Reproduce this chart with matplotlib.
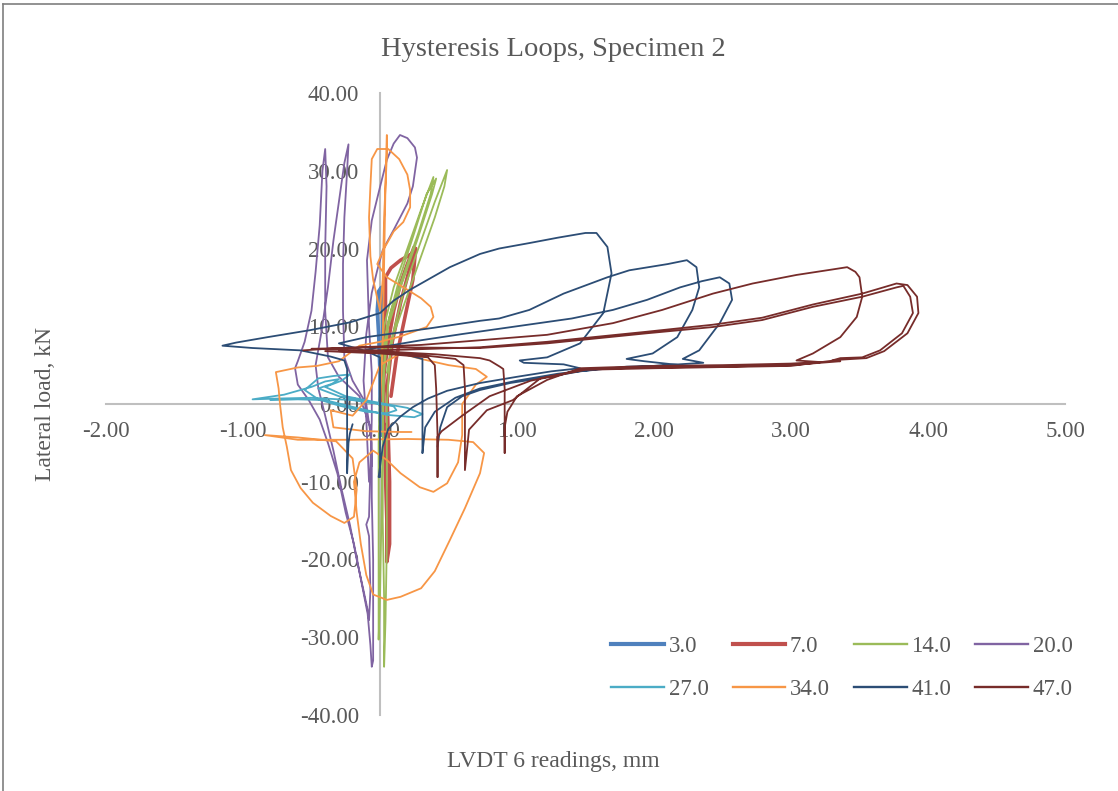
import numpy as np
import matplotlib
matplotlib.use("Agg")
import matplotlib.pyplot as plt
from matplotlib.lines import Line2D

plt.rcParams['font.family'] = ['Liberation Serif', 'DejaVu Serif']

# LVDT 6 reading (mm) vs lateral load (kN), one loop set per drift cycle
labels = ["3.0", "7.0", "14.0", "20.0", "27.0", "34.0", "41.0", "47.0"]
colors = ["#4F81BD", "#C0504D", "#9BBB59", "#8064A2",
          "#4BACC6", "#F79646", "#2C4D75", "#772C2A"]
widths = [2.6, 2.6, 1.3, 1.3, 1.3, 1.3, 1.3, 1.3]

cyc_3 = [(0.0, 0.0), (0.0, 4.0), (-0.01, 9.0), (-0.02, 12.0), (-0.01, 14.5),
         (0.01, 15.0), (0.02, 12.0), (0.02, 8.0), (0.01, 3.0), (0.0, -2.0),
         (0.01, -4.0), (0.02, -1.0), (0.0, 0.0)]

cyc_7 = [(0.02, 0.0), (0.03, 4.0), (0.06, 8.0), (0.1, 12.0), (0.15, 15.5),
         (0.2, 18.0), (0.25, 20.2), (0.26, 19.6), (0.2, 19.0), (0.15, 18.5),
         (0.08, 17.5), (0.04, 16.3), (0.04, 13.0), (0.03, 8.0), (0.02, 3.0),
         (0.03, -3.0), (0.04, -9.0), (0.05, -15.0), (0.05, -20.3), (0.07, -18.0),
         (0.07, -10.0), (0.06, -4.0), (0.05, 2.0), (0.09, 8.0), (0.15, 13.0),
         (0.21, 17.0), (0.26, 20.0), (0.24, 16.0), (0.18, 11.0), (0.12, 6.0),
         (0.08, 1.0)]

cyc_14 = [(0.0, 0.0), (0.0, 5.0), (0.03, 10.0), (0.1, 15.0), (0.2, 20.0),
          (0.3, 25.0), (0.39, 29.2), (0.37, 27.0), (0.28, 22.0), (0.18, 17.0),
          (0.08, 12.0), (0.02, 7.0), (0.0, 2.0), (-0.01, -5.0), (-0.01, -15.0),
          (-0.01, -22.0), (-0.01, -30.3), (0.0, -25.0), (0.01, -15.0),
          (0.02, -5.0), (0.02, 3.0), (0.05, 10.0), (0.14, 16.0), (0.25, 22.0),
          (0.34, 27.0), (0.41, 29.0), (0.38, 27.0), (0.27, 21.0), (0.15, 15.0),
          (0.06, 10.0), (0.03, 4.0), (0.02, -5.0), (0.02, -15.0), (0.03, -25.0),
          (0.03, -33.8), (0.04, -28.0), (0.05, -18.0), (0.05, -8.0), (0.05, 0.0),
          (0.08, 8.0), (0.18, 15.0), (0.3, 21.0), (0.4, 26.0), (0.49, 30.1),
          (0.47, 28.0), (0.4, 24.0), (0.3, 19.0), (0.2, 14.0), (0.1, 9.0),
          (0.05, 4.0)]

cyc_20 = [(-0.06, -8.0), (-0.07, -3.0), (-0.15, 1.0), (-0.3, 3.5), (-0.38, 6.0),
          (-0.4, 12.0), (-0.4, 20.0), (-0.39, 28.0), (-0.4, 32.8), (-0.42, 30.0),
          (-0.44, 23.0), (-0.47, 17.0), (-0.5, 12.0), (-0.55, 8.0), (-0.6, 5.5),
          (-0.62, 4.6), (-0.6, 2.5), (-0.52, 0.5), (-0.44, -2.0), (-0.38, -5.0),
          (-0.31, -9.0), (-0.25, -14.0), (-0.19, -18.0), (-0.14, -22.5),
          (-0.09, -27.0), (-0.07, -31.0), (-0.06, -33.8), (-0.05, -33.0),
          (-0.05, -28.0), (-0.05, -20.0), (-0.06, -12.0), (-0.06, -5.0),
          (-0.1, 0.0), (-0.2, 3.0), (-0.26, 6.0), (-0.27, 12.0), (-0.27, 18.0),
          (-0.26, 24.0), (-0.24, 30.0), (-0.23, 33.4), (-0.26, 31.0), (-0.3, 26.0),
          (-0.34, 21.0), (-0.38, 15.0), (-0.43, 9.0), (-0.47, 5.0), (-0.45, 2.0),
          (-0.4, -1.5), (-0.34, -6.0), (-0.28, -11.0), (-0.22, -15.5),
          (-0.17, -20.0), (-0.12, -24.0), (-0.09, -26.5), (-0.08, -27.8),
          (-0.07, -24.0), (-0.08, -17.0), (-0.1, -15.5), (-0.08, -14.5),
          (-0.07, -8.0), (-0.06, -2.0), (-0.06, 4.0), (-0.08, 10.0),
          (-0.095, 18.5), (-0.06, 23.6), (0.0, 27.9), (0.05, 31.4), (0.1, 33.5),
          (0.146, 34.6), (0.2, 34.2), (0.255, 33.0), (0.27, 31.7), (0.24, 28.0),
          (0.2, 25.8), (0.1, 22.4), (0.02, 19.8), (-0.02, 17.2), (-0.06, 14.3),
          (-0.1, 9.0), (-0.12, 3.0), (-0.1, -2.0), (-0.08, -10.0)]

cyc_27 = [(0.0, 0.0), (-0.2, 0.5), (-0.5, 0.8), (-0.75, 0.7), (-0.93, 0.6),
          (-0.7, 1.2), (-0.5, 2.2), (-0.4, 2.9), (-0.3, 3.2), (-0.35, 2.6),
          (-0.45, 2.0), (-0.3, 1.0), (-0.1, 0.3), (0.1, -0.3), (0.12, -0.8),
          (0.05, -1.2), (-0.1, -1.0), (-0.3, -0.2), (-0.45, 0.6), (-0.55, 1.8),
          (-0.45, 3.3), (-0.34, 3.6), (-0.22, 3.8), (-0.28, 3.0), (-0.4, 2.2),
          (-0.25, 1.0), (-0.05, 0.3), (0.2, -0.5), (0.31, -1.3), (0.25, -1.7),
          (0.05, -1.4), (-0.17, -0.5), (-0.4, 0.5), (-0.6, 0.6), (-0.8, 0.5)]

cyc_34 = [(0.0, 0.0), (0.02, 8.0), (0.03, 18.0), (0.04, 28.0), (0.05, 34.6),
          (0.05, 32.0), (0.03, 24.0), (0.02, 16.0), (0.0, 12.0), (-0.05, 16.0),
          (-0.07, 19.0), (-0.08, 24.0), (-0.07, 28.0), (-0.06, 31.5), (-0.02, 32.8),
          (0.06, 32.8), (0.14, 31.5), (0.2, 29.5), (0.22, 27.5), (0.22, 25.3),
          (0.17, 23.4), (0.1, 22.2), (0.03, 20.0), (-0.02, 18.0), (0.05, 16.3),
          (0.2, 14.7), (0.3, 13.6), (0.37, 12.5), (0.39, 11.2), (0.34, 9.9),
          (0.15, 8.7), (0.0, 8.0), (-0.15, 7.5), (-0.3, 5.5), (-0.46, 4.9),
          (-0.6, 4.7), (-0.76, 4.1), (-0.74, 2.0), (-0.73, 0.0), (-0.71, -3.0),
          (-0.68, -5.5), (-0.65, -8.5), (-0.58, -10.8), (-0.49, -12.7),
          (-0.36, -14.4), (-0.26, -15.3), (-0.19, -14.5), (-0.17, -11.0),
          (-0.2, -7.0), (-0.32, -4.8), (-0.6, -4.3), (-0.84, -4.0), (-0.6, -4.6),
          (-0.2, -4.6), (0.2, -4.5), (0.5, -4.6), (0.68, -4.9), (0.76, -6.3),
          (0.73, -8.9), (0.62, -13.4), (0.51, -17.5), (0.4, -21.5), (0.3, -23.7),
          (0.15, -24.8), (0.05, -25.2), (-0.05, -24.5), (-0.1, -22.0),
          (-0.14, -18.0), (-0.17, -14.0), (-0.19, -10.0), (-0.15, -7.5),
          (-0.05, -6.0), (0.05, -7.2), (0.15, -8.9), (0.29, -10.7), (0.39, -11.3),
          (0.49, -10.2), (0.57, -7.5), (0.6, -4.0), (0.6, 0.0), (0.7, 2.5),
          (0.78, 3.5), (0.7, 4.5), (0.5, 5.0), (0.3, 5.8), (0.15, 6.5), (0.0, 5.0),
          (-0.1, 0.5), (-0.2, -1.5), (-0.36, -0.8), (-0.34, -3.0), (-0.1, -3.5),
          (0.15, -3.6), (0.23, -3.6)]

nan = np.nan
cyc_41 = [(-0.01, -9.4), (0.02, -5.5), (0.06, -3.2), (0.15, -1.6), (0.24, -0.4),
          (0.35, 0.7), (0.49, 1.7), (0.73, 2.7), (1.0, 3.5), (1.25, 4.2),
          (1.46, 4.6), (1.34, 5.1), (1.05, 5.3), (1.02, 5.6), (1.22, 6.0),
          (1.46, 7.8), (1.63, 11.7), (1.69, 16.8), (1.66, 20.2), (1.58, 22.0),
          (1.5, 22.0), (1.3, 21.4), (1.09, 20.7), (0.87, 20.0), (0.73, 19.3),
          (0.51, 17.6), (0.35, 16.0), (0.22, 14.7), (0.1, 13.3), (0.0, 11.7),
          (-0.22, 10.5), (-0.51, 9.5), (-0.82, 8.6), (-1.05, 7.9), (-1.15, 7.5),
          (-0.93, 7.2), (-0.58, 6.9), (-0.36, 6.1), (-0.26, 5.6), (-0.24, 4.5),
          (-0.24, 0.0), (-0.24, -5.0), (-0.24, -8.9), (-0.23, -5.0), (-0.22, -3.8),
          (-0.2, -2.6), (nan, nan),
          (0.42, -5.5), (0.44, -3.0), (0.49, -0.4), (0.6, 1.0), (0.73, 1.8),
          (0.95, 2.7), (1.17, 3.3), (1.46, 4.2), (1.8, 4.8), (2.19, 5.0),
          (1.93, 5.5), (1.8, 5.8), (1.99, 6.5), (2.17, 8.6), (2.28, 12.1),
          (2.33, 15.0), (2.31, 17.6), (2.24, 18.5), (2.1, 18.0), (1.82, 17.2),
          (1.66, 16.3), (1.34, 14.2), (1.09, 12.1), (0.87, 11.0), (0.73, 10.7),
          (0.39, 9.8), (-0.1, 8.6), (-0.3, 7.8), (-0.1, 6.8), (0.0, 6.0),
          (0.0, 0.0), (0.0, -9.4), (nan, nan),
          (0.31, -6.3), (0.33, -3.0), (0.4, -1.0), (0.55, 0.8), (0.73, 2.0),
          (1.0, 3.0), (1.3, 3.9), (1.6, 4.5), (2.0, 4.9), (2.36, 5.3), (2.21, 5.8),
          (2.33, 6.9), (2.48, 10.4), (2.57, 13.4), (2.55, 15.5), (2.48, 16.3),
          (2.35, 15.8), (2.19, 15.0), (1.95, 13.4), (1.7, 12.1), (1.4, 11.0),
          (1.0, 10.0), (0.6, 9.0), (0.3, 8.2), (0.1, 7.6), (-0.1, 7.0),
          (0.2, 6.3), (0.31, 5.8), (0.31, 0.0), (0.31, -6.3)]

cyc_47 = [(-0.56, 6.9), (-0.3, 7.2), (0.0, 7.4), (0.3, 7.6), (0.73, 8.2),
          (1.22, 8.9), (1.7, 10.4), (2.06, 12.1), (2.43, 14.2), (2.72, 15.5),
          (3.04, 16.6), (3.3, 17.3), (3.41, 17.6), (3.47, 17.0), (3.5, 16.3),
          (3.52, 13.8), (3.48, 11.2), (3.36, 8.6), (3.16, 6.5), (3.04, 5.6),
          (3.21, 5.4), (3.0, 5.2), (2.5, 5.0), (2.0, 4.9), (1.46, 4.6),
          (1.22, 3.1), (1.0, 1.0), (0.93, -1.0), (0.91, -3.0), (0.91, -6.3),
          (0.91, -2.0), (0.91, 2.0), (0.9, 4.5), (0.875, 4.8), (0.8, 5.6),
          (0.73, 5.9), (0.4, 6.4), (0.0, 6.8), (-0.3, 7.0), (-0.5, 7.1),
          (0.0, 7.3), (0.73, 7.2), (1.22, 7.8), (1.95, 9.1), (2.43, 9.9),
          (2.79, 10.8), (3.16, 12.5), (3.52, 13.8), (3.77, 15.0), (3.82, 15.2),
          (3.87, 13.8), (3.89, 11.7), (3.81, 9.1), (3.65, 6.9), (3.52, 6.0),
          (3.36, 5.9), (3.3, 5.6), (3.36, 5.5), (3.0, 5.0), (2.5, 4.8), (2.0, 4.7),
          (1.5, 4.5), (1.17, 3.3), (0.97, 0.5), (0.78, -0.8), (0.65, -3.3),
          (0.62, -8.5), (0.62, -3.0), (0.62, 2.0), (0.61, 5.0), (0.55, 5.8),
          (0.3, 6.3), (0.0, 6.6), (-0.3, 6.8), (0.2, 7.0), (0.73, 7.3),
          (1.22, 8.0), (1.95, 9.3), (2.43, 10.2), (2.79, 11.1), (3.16, 12.8),
          (3.52, 14.2), (3.77, 15.5), (3.85, 15.3), (3.92, 13.8), (3.93, 11.7),
          (3.85, 9.1), (3.68, 6.8), (3.55, 5.9), (3.36, 5.7), (3.0, 4.9),
          (2.0, 4.6), (1.5, 4.4), (1.1, 3.0), (0.8, 1.0), (0.6, -1.5),
          (0.45, -3.5), (0.42, -4.2), (0.42, -9.4), (0.42, -4.0), (0.41, 2.0),
          (0.4, 5.0), (0.35, 6.0), (0.0, 6.5), (-0.4, 6.8)]

cycles = [cyc_3, cyc_7, cyc_14, cyc_20, cyc_27, cyc_34, cyc_41, cyc_47]

x_ticks = [-2, -1, 0, 1, 2, 3, 4, 5]
y_ticks = [-40, -30, -20, -10, 0, 10, 20, 30, 40]

text_color = "#595959"
axis_color = "#BFBFBF"

fig = plt.figure(figsize=(11.18, 7.91), dpi=100)
ax = fig.add_axes([0.0948, 0.0961, 0.8578, 0.7863])

for pts, lab, col, lw in zip(cycles, labels, colors, widths):
    arr = np.array(pts, dtype=float)
    ax.plot(arr[:, 0], arr[:, 1], color=col, lw=lw, label=lab,
            solid_joinstyle='round', solid_capstyle='round')

ax.set_xlim(-2, 5)
ax.set_ylim(-40, 40)
ax.set_xticks(x_ticks)
ax.set_yticks(y_ticks)
ax.set_xticklabels([f"{v:.2f}" for v in x_ticks])
ax.set_yticklabels([f"{v:.2f}" for v in y_ticks])

# axes cross at the origin, drawn under the data
for side in ["top", "right"]:
    ax.spines[side].set_visible(False)
for side in ["left", "bottom"]:
    ax.spines[side].set_position(("data", 0))
    ax.spines[side].set_color(axis_color)
    ax.spines[side].set_linewidth(1.5)
    ax.spines[side].set_zorder(0.5)
ax.tick_params(axis="x", length=0, pad=12, labelsize=16.5, labelcolor=text_color)
ax.tick_params(axis="y", length=0, pad=15, labelsize=16.5, labelcolor=text_color)
ax.patch.set_visible(False)

fig.text(553 / 1118, 1 - 50 / 791, "Hysteresis Loops, Specimen 2",
         ha="center", va="center", fontsize=20.5, color=text_color)
fig.text(46 / 1118, 1 - 404 / 791, "Lateral load, kN", rotation=90,
         ha="center", va="center", fontsize=17, color=text_color)
fig.text(553 / 1118, 1 - 762 / 791, "LVDT 6 readings, mm",
         ha="center", va="center", fontsize=17, color=text_color)

# legend reads across rows: reorder for matplotlib's column-first filling
handles = [Line2D([], [], color=c, lw=w + 0.4) for c, w in zip(colors, widths)]
order = [0, 4, 1, 5, 2, 6, 3, 7]
fig.legend([handles[i] for i in order], [labels[i] for i in order],
           ncol=4, loc="center",
           bbox_to_anchor=(842 / 1118, 1 - 668 / 791), frameon=False,
           fontsize=16.5, labelcolor=text_color, handlelength=2.3,
           handletextpad=0.2, columnspacing=1.05, labelspacing=0.92,
           borderpad=0)

# chart area border (left and top edges)
fig.add_artist(Line2D([3 / 1118, 3 / 1118], [0, 1 - 4 / 791],
                      transform=fig.transFigure, color="#7F7F7F", lw=1.2))
fig.add_artist(Line2D([3 / 1118, 1], [1 - 4 / 791, 1 - 4 / 791],
                      transform=fig.transFigure, color="#7F7F7F", lw=1.2))

fig.savefig("out.png", dpi=100)
